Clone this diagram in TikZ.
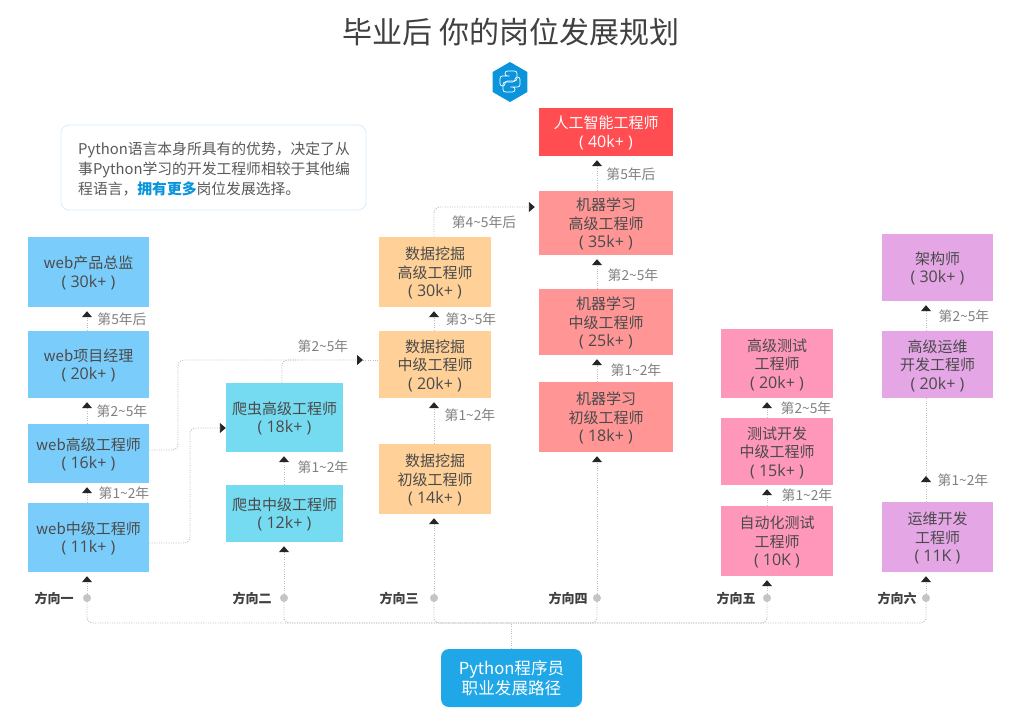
\documentclass[tikz,border=0pt]{standalone}
\usepackage{fontspec}
\setmainfont{Noto Sans CJK SC}
\newfontfamily\payfont{Open Sans}
\usetikzlibrary{arrows.meta,shapes.geometric}
\definecolor{webblue}{HTML}{7ACDFB}
\definecolor{spidercyan}{HTML}{75DBF0}
\definecolor{dataorange}{HTML}{FFD199}
\definecolor{mlred}{HTML}{FF9595}
\definecolor{aired}{HTML}{FF4D52}
\definecolor{testpink}{HTML}{FF97BA}
\definecolor{opspurple}{HTML}{E4A6E5}
\definecolor{rootblue}{HTML}{1FA7E8}
\definecolor{hexblue}{HTML}{0A94DC}
\definecolor{dotgray}{HTML}{C4C4C4}
\definecolor{linegray}{HTML}{BDBDBD}
\definecolor{noteline}{HTML}{D8EBF8}
\definecolor{boxtext}{HTML}{4A4A4A}
\newcommand{\pay}[1]{{\payfont\fontsize{16}{18.5}\selectfont ( #1 )}}
\tikzset{
    job/.style={inner sep=0pt, align=center, text=boxtext, font=\fontsize{15}{18.5}\selectfont, text depth=0.5pt},
    dotline/.style={draw=linegray, line width=0.9pt, dash pattern=on 1pt off 1.4pt},
    link/.style={dotline, -{Triangle[width=10pt,length=6pt,color=black!85]}, shorten >=4pt},
    yearlabel/.style={text=gray, inner sep=0pt, font=\fontsize{13.8}{15}\selectfont},
    direction/.style={text=black!75, inner sep=0pt, font=\fontsize{13}{15}\selectfont\bfseries},
    dirdot/.style={circle, fill=dotgray, inner sep=0pt, minimum size=8pt},
}
\begin{document}
\begin{tikzpicture}[x=1pt, y=-1pt]
    \useasboundingbox (0,0) rectangle (1015,713);

    \node[text=black!75, inner sep=0pt, font=\fontsize{30}{34}\selectfont] (title) at (511,32) {毕业后 你的岗位发展规划};
    \node[regular polygon, regular polygon sides=6, shape border rotate=30, fill=hexblue, inner sep=0pt, minimum size=40pt] (logo) at (510,82) {};
    \foreach \r in {0,180}
        \draw[white, line width=0.7pt, rounded corners=2.5pt, rotate around={\r:(510,81.5)}]
            (510,81) -- (517,81) -- (517,71) -- (505,71) -- (505,76) -- (511,76) -- (500,76) -- (500,86) -- (505,86) -- (505,81) -- cycle;

    \node[draw=noteline, line width=0.8pt, rounded corners=8pt, minimum width=305pt, minimum height=85pt, inner sep=0pt] (note) at (213.5,167.5) {};
    \node[anchor=west, align=left, inner sep=0pt, text=black!65, font=\fontsize{14.8}{20}\selectfont] (notetext) at (78,169)
        {Python语言本身所具有的优势，决定了从\\事Python学习的开发工程师相较于其他编\\程语言，\textcolor{hexblue}{\bfseries 拥有更多}岗位发展选择。};

    % direction one
    \node[job, fill=webblue, minimum width=121pt, minimum height=70pt] (web30) at (88.5,272) {web产品总监\\\pay{30k+}};
    \node[job, fill=webblue, minimum width=121pt, minimum height=67pt] (web20) at (88.5,364.5) {web项目经理\\\pay{20k+}};
    \node[job, fill=webblue, minimum width=121pt, minimum height=59pt] (web16) at (88.5,453.5) {web高级工程师\\\pay{16k+}};
    \node[job, fill=webblue, minimum width=121pt, minimum height=69pt] (web11) at (88.5,537.5) {web中级工程师\\\pay{11k+}};
    % direction two
    \node[job, fill=spidercyan, minimum width=117pt, minimum height=69pt] (spider18) at (284.5,417.5) {爬虫高级工程师\\\pay{18k+}};
    \node[job, fill=spidercyan, minimum width=117pt, minimum height=57pt] (spider12) at (284.5,513.5) {爬虫中级工程师\\\pay{12k+}};
    % direction three
    \node[job, fill=dataorange, minimum width=112pt, minimum height=70pt] (data30) at (435,272) {数据挖掘\\高级工程师\\\pay{30k+}};
    \node[job, fill=dataorange, minimum width=112pt, minimum height=67pt] (data20) at (435,364.5) {数据挖掘\\中级工程师\\\pay{20k+}};
    \node[job, fill=dataorange, minimum width=112pt, minimum height=70pt] (data14) at (435,479) {数据挖掘\\初级工程师\\\pay{14k+}};
    % direction four
    \node[job, fill=aired, text=white, minimum width=134pt, minimum height=48pt] (ai40) at (606,132) {人工智能工程师\\\pay{40k+}};
    \node[job, fill=mlred, minimum width=134pt, minimum height=64pt] (ml35) at (606,223) {机器学习\\高级工程师\\\pay{35k+}};
    \node[job, fill=mlred, minimum width=134pt, minimum height=66pt] (ml25) at (606,322) {机器学习\\中级工程师\\\pay{25k+}};
    \node[job, fill=mlred, minimum width=134pt, minimum height=70pt] (ml18) at (606,417) {机器学习\\初级工程师\\\pay{18k+}};
    % direction five
    \node[job, fill=testpink, minimum width=112pt, minimum height=69pt] (test20) at (777,363.5) {高级测试\\工程师\\\pay{20k+}};
    \node[job, fill=testpink, minimum width=112pt, minimum height=67pt] (test15) at (777,451.5) {测试开发\\中级工程师\\\pay{15k+}};
    \node[job, fill=testpink, minimum width=112pt, minimum height=70pt] (test10) at (777,541) {自动化测试\\工程师\\\pay{10K}};
    % direction six
    \node[job, fill=opspurple, minimum width=111pt, minimum height=67pt] (arch30) at (937.5,267.5) {架构师\\\pay{30k+}};
    \node[job, fill=opspurple, minimum width=111pt, minimum height=67pt] (ops20) at (937.5,364.5) {高级运维\\开发工程师\\\pay{20k+}};
    \node[job, fill=opspurple, minimum width=111pt, minimum height=70pt] (ops11) at (937.5,537) {运维开发\\工程师\\\pay{11K}};

    \node[fill=rootblue, rounded corners=8pt, text=white, align=center, inner sep=0pt, minimum width=141pt, minimum height=58pt, font=\fontsize{16.6}{20.5}\selectfont] (root) at (511.5,678) {Python程序员\\职业发展路径};

    \node[dirdot] (dot1) at (87,598) {};
    \node[dirdot] (dot2) at (284,598) {};
    \node[dirdot] (dot3) at (434,598) {};
    \node[dirdot] (dot4) at (597,598) {};
    \node[dirdot] (dot5) at (767,598) {};
    \node[dirdot] (dot6) at (926,598) {};
    \node[direction] (dir1) at (54,598) {方向一};
    \node[direction] (dir2) at (252,598) {方向二};
    \node[direction] (dir3) at (399,598) {方向三};
    \node[direction] (dir4) at (568,598) {方向四};
    \node[direction] (dir5) at (736,598) {方向五};
    \node[direction] (dir6) at (897,598) {方向六};

    \coordinate (bus) at (511.5,623);
    \draw[dotline] (root.north) -- (bus);
    \foreach \d in {1,...,6}
        \draw[dotline, rounded corners=6pt] (dot\d) -- (dot\d |- bus) -- (bus);

    \foreach \d/\b in {dot1/web11, dot2/spider12, dot3/data14, dot4/ml18, dot5/test10, dot6/ops11}
        \draw[link] (\d) -- (\d |- \b.south);
    \foreach \d/\a/\b in {dot1/web11/web16, dot1/web16/web20, dot1/web20/web30,
                          dot2/spider12/spider18,
                          dot3/data14/data20, dot3/data20/data30,
                          dot4/ml18/ml25, dot4/ml25/ml35, dot4/ml35/ai40,
                          dot5/test10/test15, dot5/test15/test20,
                          dot6/ops20/arch30}
        \draw[link] (\d |- \a.north) -- (\d |- \b.south);

    % arrow heads that stop part way along a line
    \coordinate (opstip) at (926,476);
    \draw[link, shorten >=0pt] (dot6 |- ops11.north) -- (opstip);
    \draw[dotline] (opstip) -- (dot6 |- ops20.south);

    \coordinate (webtip) at (363,360);
    \draw[link, shorten >=0pt, rounded corners=6pt] (web16.east |- 0,450) -- (178,450) -- (178,360) -- (webtip);
    \draw[dotline] (webtip) -- (data20.west |- webtip);
    \draw[dotline, rounded corners=6pt] (282,383) -- (282,360) -- (300,360);

    \draw[link, shorten >=0pt, rounded corners=6pt] (web11.east |- 0,543) -- (190,543) -- (190,428) -- (spider18.west |- 0,428);
    \draw[link, rounded corners=6pt] (434,237) -- (434,207) -- (ml35.west |- 0,207);

    \node[yearlabel] (lab1) at (122,319) {第5年后};
    \node[yearlabel] (lab2) at (122,411) {第2\textasciitilde 5年};
    \node[yearlabel] (lab3) at (124,493) {第1\textasciitilde 2年};
    \node[yearlabel] (lab4) at (323,467) {第1\textasciitilde 2年};
    \node[yearlabel] (lab5) at (323,346) {第2\textasciitilde 5年};
    \node[yearlabel] (lab6) at (471,319) {第3\textasciitilde 5年};
    \node[yearlabel] (lab7) at (470,415) {第1\textasciitilde 2年};
    \node[yearlabel] (lab8) at (484,222) {第4\textasciitilde 5年后};
    \node[yearlabel] (lab9) at (631,174) {第5年后};
    \node[yearlabel] (lab10) at (633,275) {第2\textasciitilde 5年};
    \node[yearlabel] (lab11) at (636,370) {第1\textasciitilde 2年};
    \node[yearlabel] (lab12) at (806,408) {第2\textasciitilde 5年};
    \node[yearlabel] (lab13) at (807,495) {第1\textasciitilde 2年};
    \node[yearlabel] (lab14) at (964,316) {第2\textasciitilde 5年};
    \node[yearlabel] (lab15) at (963,480) {第1\textasciitilde 2年};
\end{tikzpicture}
\end{document}
